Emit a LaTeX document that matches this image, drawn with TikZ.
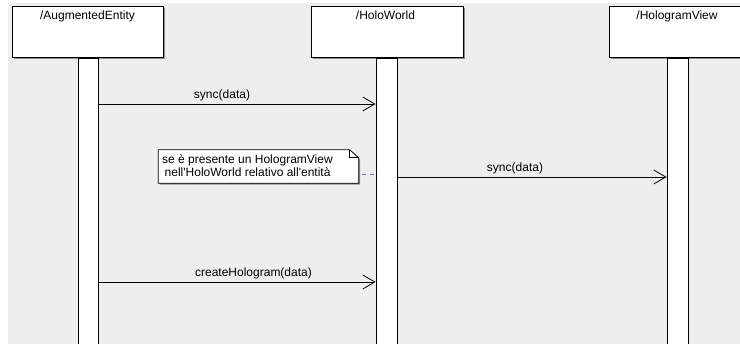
\documentclass[tikz,border=0pt]{standalone}
\usepackage{fontspec}
\setmainfont{Liberation Sans}
\usetikzlibrary{arrows.meta,shadows}
\definecolor{bg}{HTML}{EEEEEE}
\definecolor{notedash}{HTML}{6A6AD0}
\tikzset{
  objbox/.style={draw=black, line width=1pt, fill=white, inner sep=0pt,
    drop shadow={shadow xshift=1.5pt, shadow yshift=-1.5pt, fill=black!45, opacity=1}},
  lifebar/.style={draw=black, line width=0.9pt, fill=white, inner sep=0pt, anchor=north},
  objname/.style={font=\fontsize{12}{14}\selectfont, inner sep=0pt, anchor=north},
  msg/.style={draw=black, line width=0.8pt, -{Straight Barb[length=12pt,width=14pt,line width=0.8pt]}},
  msglabel/.style={font=\fontsize{12}{14}\selectfont, inner sep=0pt, anchor=base},
  notetext/.style={font=\fontsize{12}{14}\selectfont, inner sep=0pt, align=left, anchor=north west},
  notelink/.style={draw=notedash, line width=1pt, dash pattern=on 4pt off 4pt, dash phase=-2pt},
}
\begin{document}
\begin{tikzpicture}[x=1pt,y=-1pt]
\useasboundingbox (0,0) rectangle (740,344);
\clip (0,0) rectangle (740,344);
\fill[white] (0,0) rectangle (740,344);
\fill[bg] (8,3) rectangle (740,344);

% object boxes
\node[objbox, minimum width=151pt, minimum height=51pt] (boxA) at (87.5,32.5) {};
\node[objbox, minimum width=152pt, minimum height=51pt] (boxB) at (387,32.5) {};
\node[objbox, minimum width=151pt, minimum height=51pt] (boxC) at (684.5,32.5) {};
\node[objname] (nameA) at (87.5,11) {/AugmentedEntity};
\node[objname] (nameB) at (385.5,11) {/HoloWorld};
\node[objname] (nameC) at (677,11) {/HologramView};

% lifelines
\node[lifebar, minimum width=20pt, minimum height=286pt] (lifeA) at (88,58) {};
\node[lifebar, minimum width=21pt, minimum height=286pt] (lifeB) at (386.5,58) {};
\node[lifebar, minimum width=21pt, minimum height=286pt] (lifeC) at (677.5,58) {};

% message y-levels
\coordinate (y1) at (0,104);
\coordinate (y2) at (0,177);
\coordinate (y3) at (0,282);

\draw[msg] (lifeA.east |- y1) -- (lifeB.west |- y1);
\node[msglabel] (m1) at (222,99) {sync(data)};

\draw[msg] (lifeB.east |- y2) -- (lifeC.west |- y2);
\node[msglabel] (m2) at (515,172) {sync(data)};

\draw[msg] (lifeA.east |- y3) -- (lifeB.west |- y3);
\node[msglabel] (m3) at (253.5,277) {createHologram(data)};

% note
\node[inner sep=0pt, minimum width=200pt, minimum height=33pt] (note) at (258.5,166.5) {};
\fill[black!45] ([shift={(1.5,1.5)}]note.north west)
  -- ([shift={(-7.5,1.5)}]note.north east) -- ([shift={(1.5,9.5)}]note.north east)
  -- ([shift={(1.5,1.5)}]note.south east) -- ([shift={(1.5,1.5)}]note.south west) -- cycle;
\draw[line width=0.8pt, fill=white] (note.north west) -- ([shift={(-9,0)}]note.north east)
  -- ([shift={(0,8)}]note.north east) -- (note.south east) -- (note.south west) -- cycle;
\draw[line width=0.6pt] ([shift={(-9,0)}]note.north east) -- ([shift={(-9,8)}]note.north east)
  -- ([shift={(0,8)}]note.north east);
\node[notetext] (notetxt) at (162,154) {se è presente un HologramView\\[-1pt]\hspace*{2.5pt}nell\textquotesingle HoloWorld relativo all\textquotesingle entità};
\draw[notelink] ([xshift=1pt]note.east |- 0,175) -- (lifeB.west |- 0,175);
\end{tikzpicture}
\end{document}
